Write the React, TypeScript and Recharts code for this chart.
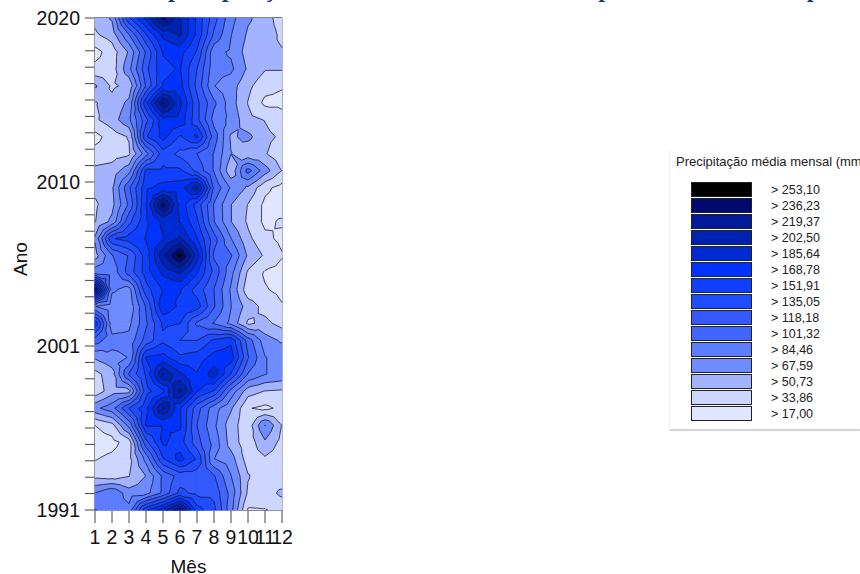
import React from 'react';
import { ScatterChart, Scatter, XAxis, YAxis, ReferenceLine } from 'recharts';

const WIDTH = 860;
const HEIGHT = 574;
const PLOT_LEFT = 95;
const PLOT_TOP = 18;
const PLOT_RIGHT = 282;
const PLOT_BOTTOM = 510;

const MONTHS = [1, 2, 3, 4, 5, 6, 7, 8, 9, 10, 11, 12];
const YEARS = [
  2020, 2019, 2018, 2017, 2016, 2015, 2014, 2013, 2012, 2011, 2010, 2009, 2008, 2007, 2006,
  2005, 2004, 2003, 2002, 2001, 2000, 1999, 1998, 1997, 1996, 1995, 1994, 1993, 1992, 1991,
];

// mm per month, one row per year, top of the plot first
const PRECIP = [
  [55, 70, 150, 190, 245, 205, 165, 125, 90, 70, 60, 40],
  [48, 58, 100, 150, 190, 205, 165, 115, 85, 65, 60, 47],
  [28, 42, 70, 120, 170, 175, 150, 90, 82, 60, 55, 52],
  [38, 42, 80, 130, 165, 170, 135, 90, 88, 65, 52, 52],
  [70, 48, 55, 120, 170, 175, 130, 85, 75, 55, 40, 35],
  [50, 55, 72, 165, 238, 190, 140, 105, 75, 50, 30, 30],
  [48, 60, 80, 130, 180, 180, 140, 95, 80, 55, 50, 40],
  [28, 42, 52, 150, 175, 150, 172, 110, 65, 72, 55, 48],
  [40, 43, 48, 95, 145, 130, 118, 100, 68, 55, 52, 40],
  [55, 58, 78, 155, 155, 155, 130, 100, 55, 108, 75, 50],
  [55, 65, 115, 165, 175, 178, 212, 115, 82, 65, 38, 28],
  [48, 62, 105, 168, 245, 180, 145, 100, 68, 50, 30, 25],
  [50, 72, 130, 165, 190, 185, 155, 102, 68, 48, 30, 36],
  [70, 150, 160, 170, 185, 205, 170, 125, 85, 55, 38, 30],
  [60, 100, 120, 160, 215, 262, 195, 115, 103, 65, 48, 35],
  [95, 90, 125, 160, 190, 205, 170, 130, 90, 48, 32, 28],
  [240, 88, 78, 145, 170, 170, 145, 118, 82, 40, 35, 30],
  [85, 72, 72, 120, 182, 165, 160, 120, 85, 60, 45, 35],
  [165, 75, 80, 115, 155, 152, 115, 100, 80, 48, 55, 45],
  [110, 90, 90, 125, 148, 135, 135, 155, 165, 110, 75, 65],
  [70, 80, 85, 170, 175, 155, 160, 175, 178, 120, 85, 80],
  [45, 60, 120, 155, 220, 190, 170, 195, 150, 100, 85, 80],
  [40, 60, 62, 145, 165, 225, 170, 150, 95, 58, 50, 48],
  [80, 95, 135, 165, 222, 170, 125, 92, 70, 35, 30, 38],
  [34, 45, 90, 170, 170, 172, 118, 88, 58, 40, 85, 50],
  [25, 28, 42, 130, 172, 160, 125, 95, 60, 40, 65, 45],
  [33, 38, 45, 90, 150, 175, 150, 85, 75, 42, 48, 42],
  [45, 42, 50, 68, 105, 125, 125, 120, 85, 52, 40, 38],
  [85, 100, 75, 78, 105, 140, 130, 130, 95, 48, 42, 55],
  [102, 95, 90, 165, 195, 235, 160, 140, 90, 32, 33, 38],
];

const LEVELS = [17, 33.86, 50.73, 67.59, 84.46, 101.32, 118.18, 135.05, 151.91, 168.78, 185.64, 202.5, 219.37, 236.23, 253.1];
const LEVEL_LABELS = ['17,00', '33,86', '50,73', '67,59', '84,46', '101,32', '118,18', '135,05', '151,91', '168,78', '185,64', '202,50', '219,37', '236,23', '253,10'];
const LEVEL_COLORS = ['#e0e6ff', '#ccd6ff', '#a3b3ff', '#6e8cff', '#5c7dff', '#4066ff', '#3359ff', '#1f4dff', '#0f40ff', '#0033ff', '#002bd1', '#0022b3', '#001a99', '#000a6e', '#000000'];

const Y_TICK_COUNT = 31;
const Y_TICK_LABELS: Record<number, string> = { 0: '1991', 10: '2001', 20: '2010', 30: '2020' };
// only the feet of this line are visible in the reference, the wording is a best guess
const TITLE = 'Análise anual da precipitação média mensal desde 1991 e presente no Estado para o período';

const yearTicks = Array.from({ length: Y_TICK_COUNT }, (_, i) => 1991 + (i * 29) / 30);

const CELL_W = (PLOT_RIGHT - PLOT_LEFT) / (MONTHS.length - 1);
const CELL_H = (PLOT_BOTTOM - PLOT_TOP) / (YEARS.length - 1);

interface Pt {
  x: number;
  y: number;
  v: number;
}

const nodes = YEARS.flatMap((year, r) =>
  MONTHS.map((month, c) => ({
    month,
    year,
    tl: PRECIP[r][c],
    tr: c < MONTHS.length - 1 ? PRECIP[r][c + 1] : null,
    br: c < MONTHS.length - 1 && r < YEARS.length - 1 ? PRECIP[r + 1][c + 1] : null,
    bl: r < YEARS.length - 1 ? PRECIP[r + 1][c] : null,
  })),
);

function cellTriangles(cx: number, cy: number, p: (typeof nodes)[number]): Pt[][] | null {
  if (p.tr === null || p.br === null || p.bl === null) return null;
  const a = { x: cx, y: cy, v: p.tl };
  const b = { x: cx + CELL_W, y: cy, v: p.tr };
  const c = { x: cx + CELL_W, y: cy + CELL_H, v: p.br };
  const d = { x: cx, y: cy + CELL_H, v: p.bl };
  const e = { x: cx + CELL_W / 2, y: cy + CELL_H / 2, v: (p.tl + p.tr + p.br + p.bl) / 4 };
  return [[a, b, e], [b, c, e], [c, d, e], [d, a, e]];
}

function cross(p: Pt, q: Pt, level: number): Pt {
  const t = (level - p.v) / (q.v - p.v);
  return { x: p.x + (q.x - p.x) * t, y: p.y + (q.y - p.y) * t, v: level };
}

function clipAbove(tri: Pt[], level: number): Pt[] {
  const out: Pt[] = [];
  tri.forEach((p, i) => {
    const q = tri[(i + 1) % tri.length];
    if (p.v >= level) out.push(p);
    if (p.v >= level !== q.v >= level) out.push(cross(p, q, level));
  });
  return out;
}

// one series per level, so a darker band always paints over the lighter one below it
function bandShape(levelIndex: number) {
  return function BandCell(props: any) {
    const tris = cellTriangles(props.cx, props.cy, props.payload);
    if (!tris) return <g />;
    const d = tris
      .map((t) => clipAbove(t, LEVELS[levelIndex]))
      .filter((poly) => poly.length > 2)
      .map((poly) => 'M' + poly.map((pt) => `${pt.x.toFixed(2)},${pt.y.toFixed(2)}`).join('L') + 'Z')
      .join('');
    if (!d) return <g />;
    return <path d={d} fill={LEVEL_COLORS[levelIndex]} stroke={LEVEL_COLORS[levelIndex]} strokeWidth={0.4} />;
  };
}

function ContourCell(props: any) {
  const tris = cellTriangles(props.cx, props.cy, props.payload);
  if (!tris) return <g />;
  let d = '';
  LEVELS.forEach((level) => {
    tris.forEach((t) => {
      const hits: Pt[] = [];
      t.forEach((p, i) => {
        const q = t[(i + 1) % 3];
        if (p.v >= level !== q.v >= level) hits.push(cross(p, q, level));
      });
      if (hits.length === 2) {
        d += `M${hits[0].x.toFixed(2)},${hits[0].y.toFixed(2)}L${hits[1].x.toFixed(2)},${hits[1].y.toFixed(2)}`;
      }
    });
  });
  return <path d={d} fill="none" stroke="#1c1c2a" strokeWidth={0.8} />;
}

function LegendBox() {
  const rows = LEVELS.map((_, i) => LEVELS.length - 1 - i);
  return (
    <div
      style={{
        position: 'absolute',
        left: 670,
        top: 150,
        width: 190,
        height: 279,
        overflow: 'hidden',
        background: '#fff',
        borderBottom: '2px solid #d4d4d4',
        boxShadow: '-1px 0 1px #f0f0f0',
        fontFamily: 'Liberation Sans, Arial, sans-serif',
        fontSize: 12.5,
        color: '#222',
      }}
    >
      <div style={{ position: 'absolute', left: 6, top: 4, fontSize: 13, whiteSpace: 'nowrap' }}>Precipitação média mensal (mm)</div>
      {rows.map((idx, row) => (
        <React.Fragment key={idx}>
          <div
            style={{
              position: 'absolute',
              left: 21,
              top: 32 + row * 16,
              width: 59,
              height: 13,
              background: LEVEL_COLORS[idx],
              border: '1px solid #222',
            }}
          />
          <div style={{ position: 'absolute', left: 101, top: 33 + row * 16, lineHeight: '14px' }}>{`> ${LEVEL_LABELS[idx]}`}</div>
        </React.Fragment>
      ))}
    </div>
  );
}

export default function App() {
  const tickStyle = { fill: '#111', fontSize: 19.5, fontFamily: 'Liberation Sans, Arial, sans-serif' };
  const labelStyle = { fill: '#111', fontSize: 19, fontFamily: 'Liberation Sans, Arial, sans-serif' };
  return (
    <div style={{ position: 'absolute', left: 0, top: 0, width: WIDTH, height: HEIGHT, overflow: 'hidden', background: '#fff' }}>
      <div
        style={{
          position: 'absolute',
          left: -16,
          top: -27,
          whiteSpace: 'nowrap',
          fontFamily: 'Liberation Serif, serif',
          fontWeight: 'bold',
          fontSize: 25,
          lineHeight: '32px',
          color: '#1f3864',
        }}
      >
        {TITLE}
      </div>
      <ScatterChart width={WIDTH} height={HEIGHT} margin={{ top: PLOT_TOP, right: WIDTH - PLOT_RIGHT, bottom: 0, left: 0 }}>
        <XAxis
          type="number"
          dataKey="month"
          domain={[1, 12]}
          ticks={MONTHS}
          interval={0}
          height={HEIGHT - PLOT_BOTTOM}
          tickSize={13}
          tickMargin={7}
          tick={tickStyle}
          stroke="#444"
          label={{ value: 'Mês', position: 'insideBottom', offset: 0, dy: -1, style: labelStyle }}
        />
        <YAxis
          type="number"
          dataKey="year"
          domain={[1991, 2020]}
          ticks={yearTicks}
          interval={0}
          width={PLOT_LEFT}
          tickSize={10}
          tickMargin={5}
          tick={tickStyle}
          tickFormatter={(_: number, i: number) => Y_TICK_LABELS[i] ?? ''}
          stroke="#444"
          label={{ value: 'Ano', angle: -90, position: 'insideLeft', dx: 15, dy: 12, style: labelStyle }}
        />
        {LEVELS.map((level, i) => (
          <Scatter key={level} data={nodes} isAnimationActive={false} shape={bandShape(i)} />
        ))}
        <Scatter data={nodes} isAnimationActive={false} shape={ContourCell} />
        <ReferenceLine x={12} stroke="#444" />
        <ReferenceLine x={1} stroke="#444" />
        <ReferenceLine y={2020} stroke="#000" strokeWidth={1.5} />
        <ReferenceLine y={1991} stroke="#222" />
      </ScatterChart>
      <LegendBox />
    </div>
  );
}
